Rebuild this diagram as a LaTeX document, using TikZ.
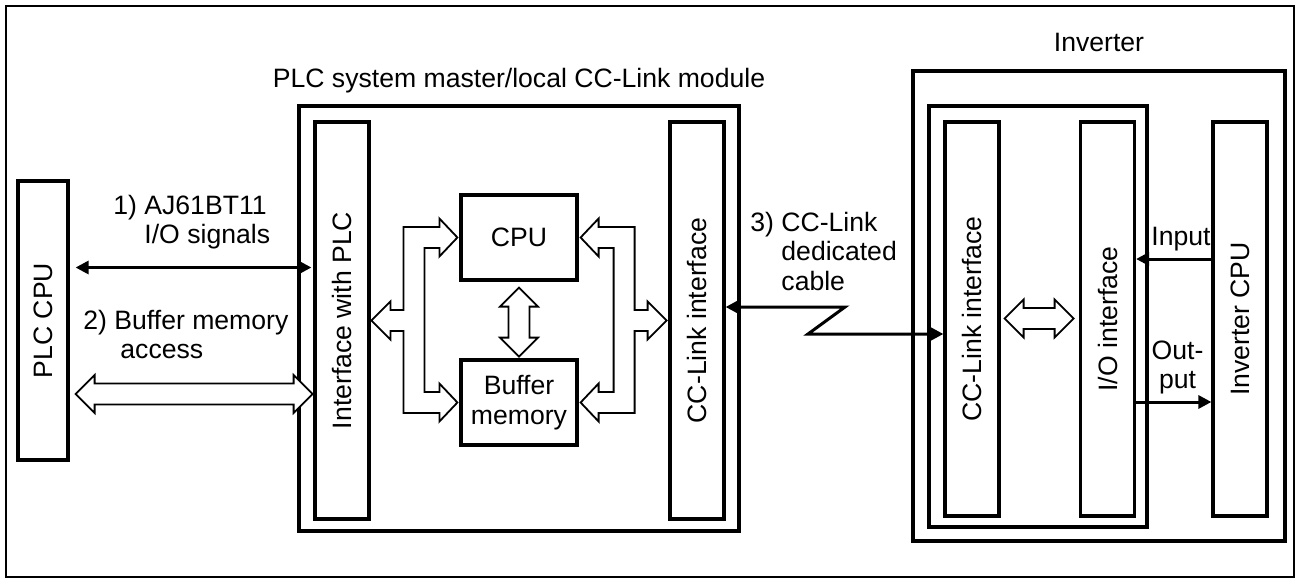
\documentclass[tikz,border=0pt]{standalone}
\usepackage{fontspec}
\setmainfont{Liberation Sans}
\usepackage{graphicx}
\usetikzlibrary{positioning, calc, arrows.meta}

\tikzset{
  blk/.style={draw, line width=1.6pt, inner sep=0pt, align=center},
  bar/.style={blk, minimum width=27pt, minimum height=198.5pt},
  lbl/.style={inner sep=0pt},
  conn/.style={line width=1.5pt},
  hollow/.style={draw, fill=white, line width=0.9pt},
  pics/twoway/.style={code={
    \draw[hollow] (0,0) -- (19,-19) -- (19,-10.5) -- (#1-19,-10.5) -- (#1-19,-19)
      -- (#1,0) -- (#1-19,19) -- (#1-19,10.5) -- (19,10.5) -- (19,19) -- cycle;
  }}
}

\begin{document}
\begin{tikzpicture}[x=0.5pt, y=-0.5pt, font=\fontsize{13.3pt}{14.75pt}\selectfont,
    >={Triangle[length=6.5pt, width=6.5pt]}]
  \useasboundingbox (0,0) rectangle (1300,583);
  \draw[line width=1.2pt] (6,6) rectangle (1294,577);

  % ---------------- PLC CPU
  \node[blk, minimum width=25pt, minimum height=139.5pt] (plccpu) at (43,320.5) {\rotatebox{90}{PLC CPU}};

  % ---------------- master/local module
  \node[blk, minimum width=220pt, minimum height=212.5pt] (module) at (519,318.5) {};
  \node[lbl, anchor=base] (modttl) at ($(module.north)+(0,-17)$) {PLC system master/local CC-Link module};
  \node[bar] (ifplc) at (342,320.5) {\rotatebox{90}{Interface with PLC}};
  \node[bar] (cclm) at (697,320.5) {\rotatebox{90}{CC-Link interface}};
  \node[blk, minimum width=58pt, minimum height=42.5pt] (cpu) at (519,237.5) {CPU};
  \node[blk, minimum width=58pt, minimum height=42.5pt] (buf) at (519,402.5) {Buffer\\memory};
  \foreach \side/\flip in {west/1, east/-1}{
    \begin{scope}[shift={(cpu.\side)}, xscale=\flip]
      \draw[hollow] (-2,0) -- (-20,19) -- (-20,10.5) -- (-35,10.5) -- (-35,154.5) -- (-20,154.5)
        -- (-20,146) -- (-2,165) -- (-20,184) -- (-20,175.5) -- (-56,175.5) -- (-56,93.5)
        -- (-69,93.5) -- (-69,102) -- (-88,83) -- (-69,64) -- (-69,72.5) -- (-56,72.5)
        -- (-56,-10.5) -- (-20,-10.5) -- (-20,-19) -- cycle;
    \end{scope}
  }
  \pic[rotate=-90] at ($(cpu.south)+(0,6)$) {twoway=69};

  % ---------------- PLC CPU <-> module
  \coordinate (sig) at (0,267.5);
  \draw[conn, <->, shorten <=3pt, shorten >=1pt] (plccpu.east |- sig) -- (ifplc.west |- sig);
  \node[lbl, anchor=base west] (lbl1) at (113,214) {\begin{tabular}[t]{@{}l@{\ }l@{}}1) & AJ61BT11\\ & I/O signals\end{tabular}};
  \pic at ($(plccpu.east)+(6,73.5)$) {twoway=237};
  \node[lbl, anchor=base west] (lbl2) at (83,329) {\begin{tabular}[t]{@{}l@{\ }l@{}}2) & Buffer memory\\ & \hspace{3pt}access\end{tabular}};

  % ---------------- inverter
  \node[blk, minimum width=186pt, minimum height=235pt] (invout) at (1099,306) {};
  \node[lbl, anchor=base] (invttl) at ($(invout.north)+(0,-18)$) {Inverter};
  \node[blk, minimum width=109pt, minimum height=210.5pt] (invin) at (1038,316.5) {};
  \node[bar, minimum height=197pt] (ccli) at (972,319) {\rotatebox{90}{CC-Link interface}};
  \node[bar, minimum height=197pt] (ioif) at (1107.5,319) {\rotatebox{90}{I/O interface}};
  \node[bar, minimum height=197pt] (invcpu) at (1240,319) {\rotatebox{90}{Inverter CPU}};
  \pic at ($(ccli.east)+(4,-0.5)$) {twoway=69};
  \coordinate (inp) at (0,259);
  \coordinate (outp) at (0,402);
  \draw[conn, ->] (invcpu.west |- inp) -- (ioif.east |- inp);
  \draw[conn, ->] (ioif.east |- outp) -- (invcpu.west |- outp);
  \node[lbl, anchor=base west] (inlbl) at (1151,245) {Input};
  \node[lbl, anchor=base] (outlbl) at (1177.5,359) {\begin{tabular}[t]{@{}c@{}}Out-\\put\end{tabular}};

  % ---------------- dedicated cable
  \coordinate (zig1) at (845,307);
  \coordinate (zig2) at (808,334);
  \draw[conn, <->] (cclm.east |- zig1) -- (zig1) -- (zig2) -- (ccli.west |- zig2);
  \node[lbl, anchor=base west] (lbl3) at (750,231) {\begin{tabular}[t]{@{}l@{\ }l@{}}3) & CC-Link\\ & dedicated\\ & cable\end{tabular}};
\end{tikzpicture}
\end{document}
